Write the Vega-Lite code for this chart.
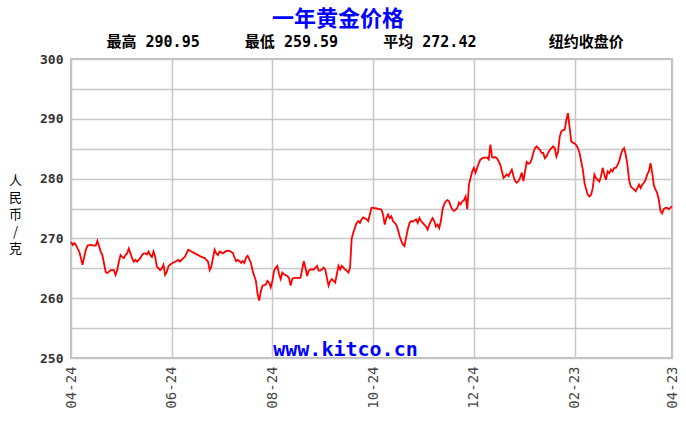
{
  "$schema": "https://vega.github.io/schema/vega-lite/v6.json",
  "width": 601,
  "height": 299,
  "autosize": {"type": "none"},
  "padding": {"left": 71, "top": 59, "right": 14, "bottom": 65},
  "background": "white",
  "config": {
    "view": {"stroke": "#bdbdbd", "strokeWidth": 2}
  },
  "title": {
    "text": "一年黄金价格",
    "subtitle": "\u200b\u00a0\u00a0\u00a0\u00a0\u00a0\u00a0最高\u00a0290.95\u00a0\u00a0\u00a0\u00a0\u00a0最低\u00a0259.59\u00a0\u00a0\u00a0\u00a0\u00a0平均\u00a0272.42\u00a0\u00a0\u00a0\u00a0\u00a0\u00a0\u00a0\u00a0纽约收盘价",
    "anchor": "middle",
    "frame": "group",
    "dx": -33.5,
    "font": "Noto Sans CJK SC",
    "fontSize": 22,
    "fontWeight": "bold",
    "color": "#0000ff",
    "subtitleFont": "'DejaVu Sans Mono', 'Noto Sans CJK SC'",
    "subtitleFontSize": 15,
    "subtitleFontWeight": "bold",
    "subtitleColor": "#000000",
    "subtitlePadding": 4,
    "offset": 2
  },
  "data": {
    "values": [
      {"d": "2018-04-24", "p": 269.4}, {"d": "2018-04-25", "p": 268.9}, {"d": "2018-04-26", "p": 269.2}, {"d": "2018-04-27", "p": 268.9},
      {"d": "2018-04-28", "p": 268.3}, {"d": "2018-04-29", "p": 267.8}, {"d": "2018-04-30", "p": 266.7}, {"d": "2018-05-01", "p": 265.6},
      {"d": "2018-05-02", "p": 266.9}, {"d": "2018-05-03", "p": 268.1}, {"d": "2018-05-04", "p": 268.8}, {"d": "2018-05-06", "p": 268.9},
      {"d": "2018-05-08", "p": 268.8}, {"d": "2018-05-09", "p": 268.8}, {"d": "2018-05-10", "p": 269.6}, {"d": "2018-05-11", "p": 268.7},
      {"d": "2018-05-12", "p": 267.8}, {"d": "2018-05-13", "p": 267.2}, {"d": "2018-05-14", "p": 265.8}, {"d": "2018-05-15", "p": 264.4},
      {"d": "2018-05-16", "p": 264.2}, {"d": "2018-05-18", "p": 264.7}, {"d": "2018-05-20", "p": 264.7}, {"d": "2018-05-21", "p": 263.9},
      {"d": "2018-05-22", "p": 264.7}, {"d": "2018-05-23", "p": 266.1}, {"d": "2018-05-24", "p": 267.2}, {"d": "2018-05-25", "p": 266.9},
      {"d": "2018-05-26", "p": 266.7}, {"d": "2018-05-27", "p": 267.2}, {"d": "2018-05-28", "p": 267.5}, {"d": "2018-05-29", "p": 268.3},
      {"d": "2018-05-30", "p": 267.5}, {"d": "2018-05-31", "p": 266.7}, {"d": "2018-06-01", "p": 266.1}, {"d": "2018-06-02", "p": 266.4},
      {"d": "2018-06-03", "p": 266.1}, {"d": "2018-06-04", "p": 266.4}, {"d": "2018-06-05", "p": 266.7}, {"d": "2018-06-06", "p": 267.2},
      {"d": "2018-06-07", "p": 267.5}, {"d": "2018-06-08", "p": 267.5}, {"d": "2018-06-09", "p": 267.3}, {"d": "2018-06-10", "p": 267.8},
      {"d": "2018-06-11", "p": 267.2}, {"d": "2018-06-12", "p": 266.9}, {"d": "2018-06-13", "p": 267.8}, {"d": "2018-06-14", "p": 266.9},
      {"d": "2018-06-15", "p": 265.3}, {"d": "2018-06-16", "p": 265.0}, {"d": "2018-06-17", "p": 264.7}, {"d": "2018-06-18", "p": 265.0},
      {"d": "2018-06-19", "p": 265.6}, {"d": "2018-06-20", "p": 263.9}, {"d": "2018-06-21", "p": 264.4}, {"d": "2018-06-22", "p": 265.3},
      {"d": "2018-06-23", "p": 265.6}, {"d": "2018-06-24", "p": 265.8}, {"d": "2018-06-26", "p": 266.1}, {"d": "2018-06-28", "p": 266.4},
      {"d": "2018-06-29", "p": 266.1}, {"d": "2018-06-30", "p": 266.4}, {"d": "2018-07-01", "p": 266.7}, {"d": "2018-07-02", "p": 266.9},
      {"d": "2018-07-04", "p": 268.1}, {"d": "2018-07-06", "p": 267.8}, {"d": "2018-07-08", "p": 267.5}, {"d": "2018-07-10", "p": 267.2},
      {"d": "2018-07-12", "p": 266.9}, {"d": "2018-07-14", "p": 266.7}, {"d": "2018-07-16", "p": 266.1}, {"d": "2018-07-17", "p": 264.7},
      {"d": "2018-07-18", "p": 265.3}, {"d": "2018-07-19", "p": 266.7}, {"d": "2018-07-20", "p": 268.1}, {"d": "2018-07-21", "p": 267.5},
      {"d": "2018-07-22", "p": 267.2}, {"d": "2018-07-23", "p": 267.8}, {"d": "2018-07-25", "p": 267.5}, {"d": "2018-07-27", "p": 267.9},
      {"d": "2018-07-29", "p": 267.9}, {"d": "2018-07-31", "p": 267.6}, {"d": "2018-08-01", "p": 266.8}, {"d": "2018-08-02", "p": 266.2},
      {"d": "2018-08-03", "p": 266.4}, {"d": "2018-08-04", "p": 266.2}, {"d": "2018-08-05", "p": 265.9}, {"d": "2018-08-06", "p": 266.2},
      {"d": "2018-08-07", "p": 265.9}, {"d": "2018-08-08", "p": 266.8}, {"d": "2018-08-09", "p": 267.1}, {"d": "2018-08-10", "p": 266.5},
      {"d": "2018-08-11", "p": 265.9}, {"d": "2018-08-12", "p": 264.6}, {"d": "2018-08-13", "p": 263.7}, {"d": "2018-08-14", "p": 262.9},
      {"d": "2018-08-15", "p": 260.7}, {"d": "2018-08-16", "p": 259.59}, {"d": "2018-08-17", "p": 261.2}, {"d": "2018-08-18", "p": 262.1},
      {"d": "2018-08-19", "p": 262.2}, {"d": "2018-08-20", "p": 262.3}, {"d": "2018-08-21", "p": 262.9}, {"d": "2018-08-22", "p": 262.6},
      {"d": "2018-08-23", "p": 261.8}, {"d": "2018-08-24", "p": 262.9}, {"d": "2018-08-25", "p": 264.6}, {"d": "2018-08-26", "p": 265.1},
      {"d": "2018-08-27", "p": 265.4}, {"d": "2018-08-28", "p": 264.0}, {"d": "2018-08-29", "p": 263.2}, {"d": "2018-08-30", "p": 264.3},
      {"d": "2018-08-31", "p": 264.0}, {"d": "2018-09-02", "p": 263.7}, {"d": "2018-09-03", "p": 263.4}, {"d": "2018-09-04", "p": 262.1},
      {"d": "2018-09-05", "p": 263.2}, {"d": "2018-09-06", "p": 263.4}, {"d": "2018-09-08", "p": 263.4}, {"d": "2018-09-10", "p": 263.4},
      {"d": "2018-09-11", "p": 264.8}, {"d": "2018-09-12", "p": 266.2}, {"d": "2018-09-13", "p": 265.1}, {"d": "2018-09-14", "p": 263.7},
      {"d": "2018-09-15", "p": 264.6}, {"d": "2018-09-16", "p": 264.8}, {"d": "2018-09-18", "p": 264.8}, {"d": "2018-09-20", "p": 265.4},
      {"d": "2018-09-21", "p": 264.6}, {"d": "2018-09-22", "p": 264.6}, {"d": "2018-09-23", "p": 264.8}, {"d": "2018-09-24", "p": 265.1},
      {"d": "2018-09-25", "p": 264.8}, {"d": "2018-09-26", "p": 263.4}, {"d": "2018-09-27", "p": 262.1}, {"d": "2018-09-28", "p": 262.9},
      {"d": "2018-09-29", "p": 263.2}, {"d": "2018-09-30", "p": 262.9}, {"d": "2018-10-01", "p": 262.6}, {"d": "2018-10-02", "p": 264.0},
      {"d": "2018-10-03", "p": 265.4}, {"d": "2018-10-04", "p": 264.8}, {"d": "2018-10-05", "p": 265.4}, {"d": "2018-10-06", "p": 265.1},
      {"d": "2018-10-07", "p": 264.8}, {"d": "2018-10-08", "p": 264.6}, {"d": "2018-10-09", "p": 264.3}, {"d": "2018-10-10", "p": 265.1},
      {"d": "2018-10-11", "p": 270.0}, {"d": "2018-10-12", "p": 271.0}, {"d": "2018-10-13", "p": 271.8}, {"d": "2018-10-14", "p": 272.6},
      {"d": "2018-10-15", "p": 272.9}, {"d": "2018-10-16", "p": 272.6}, {"d": "2018-10-17", "p": 273.2}, {"d": "2018-10-18", "p": 273.5},
      {"d": "2018-10-20", "p": 273.2}, {"d": "2018-10-21", "p": 272.9}, {"d": "2018-10-22", "p": 274.0}, {"d": "2018-10-23", "p": 275.1},
      {"d": "2018-10-24", "p": 275.1}, {"d": "2018-10-26", "p": 275.0}, {"d": "2018-10-28", "p": 274.9}, {"d": "2018-10-29", "p": 274.8},
      {"d": "2018-10-30", "p": 274.0}, {"d": "2018-10-31", "p": 272.3}, {"d": "2018-11-01", "p": 273.4}, {"d": "2018-11-02", "p": 274.0},
      {"d": "2018-11-03", "p": 273.4}, {"d": "2018-11-04", "p": 273.7}, {"d": "2018-11-05", "p": 272.9}, {"d": "2018-11-06", "p": 272.6},
      {"d": "2018-11-07", "p": 272.3}, {"d": "2018-11-08", "p": 271.5}, {"d": "2018-11-09", "p": 270.4}, {"d": "2018-11-10", "p": 269.6},
      {"d": "2018-11-11", "p": 269.0}, {"d": "2018-11-12", "p": 268.7}, {"d": "2018-11-13", "p": 270.2}, {"d": "2018-11-14", "p": 271.5},
      {"d": "2018-11-15", "p": 272.6}, {"d": "2018-11-16", "p": 272.9}, {"d": "2018-11-17", "p": 272.8}, {"d": "2018-11-18", "p": 273.0},
      {"d": "2018-11-19", "p": 273.2}, {"d": "2018-11-20", "p": 272.6}, {"d": "2018-11-21", "p": 273.4}, {"d": "2018-11-22", "p": 272.9},
      {"d": "2018-11-23", "p": 272.6}, {"d": "2018-11-24", "p": 272.3}, {"d": "2018-11-25", "p": 272.0}, {"d": "2018-11-26", "p": 271.5},
      {"d": "2018-11-27", "p": 272.3}, {"d": "2018-11-28", "p": 272.9}, {"d": "2018-11-29", "p": 273.4}, {"d": "2018-11-30", "p": 272.9},
      {"d": "2018-12-01", "p": 272.0}, {"d": "2018-12-02", "p": 272.3}, {"d": "2018-12-03", "p": 271.7}, {"d": "2018-12-04", "p": 272.9},
      {"d": "2018-12-05", "p": 274.8}, {"d": "2018-12-06", "p": 275.7}, {"d": "2018-12-07", "p": 276.2}, {"d": "2018-12-08", "p": 276.4},
      {"d": "2018-12-09", "p": 276.2}, {"d": "2018-12-10", "p": 275.4}, {"d": "2018-12-11", "p": 274.8}, {"d": "2018-12-12", "p": 274.6},
      {"d": "2018-12-13", "p": 274.8}, {"d": "2018-12-14", "p": 275.1}, {"d": "2018-12-15", "p": 276.0}, {"d": "2018-12-16", "p": 275.7},
      {"d": "2018-12-17", "p": 276.2}, {"d": "2018-12-18", "p": 276.4}, {"d": "2018-12-19", "p": 277.0}, {"d": "2018-12-20", "p": 274.9},
      {"d": "2018-12-21", "p": 279.0}, {"d": "2018-12-22", "p": 280.1}, {"d": "2018-12-23", "p": 281.2}, {"d": "2018-12-24", "p": 281.8},
      {"d": "2018-12-25", "p": 281.0}, {"d": "2018-12-26", "p": 281.8}, {"d": "2018-12-27", "p": 282.6}, {"d": "2018-12-28", "p": 283.2},
      {"d": "2018-12-29", "p": 283.4}, {"d": "2018-12-30", "p": 283.5}, {"d": "2018-12-31", "p": 283.5}, {"d": "2019-01-01", "p": 283.5},
      {"d": "2019-01-02", "p": 283.2}, {"d": "2019-01-03", "p": 285.7}, {"d": "2019-01-04", "p": 283.6}, {"d": "2019-01-05", "p": 283.5},
      {"d": "2019-01-06", "p": 283.6}, {"d": "2019-01-07", "p": 283.4}, {"d": "2019-01-08", "p": 282.9}, {"d": "2019-01-09", "p": 282.3},
      {"d": "2019-01-10", "p": 281.2}, {"d": "2019-01-11", "p": 280.1}, {"d": "2019-01-12", "p": 280.4}, {"d": "2019-01-13", "p": 280.7},
      {"d": "2019-01-14", "p": 280.4}, {"d": "2019-01-15", "p": 281.0}, {"d": "2019-01-16", "p": 281.5}, {"d": "2019-01-17", "p": 280.4},
      {"d": "2019-01-18", "p": 279.6}, {"d": "2019-01-19", "p": 279.3}, {"d": "2019-01-20", "p": 279.6}, {"d": "2019-01-21", "p": 280.1},
      {"d": "2019-01-22", "p": 281.0}, {"d": "2019-01-23", "p": 279.6}, {"d": "2019-01-24", "p": 281.2}, {"d": "2019-01-25", "p": 282.8},
      {"d": "2019-01-26", "p": 282.5}, {"d": "2019-01-27", "p": 282.6}, {"d": "2019-01-28", "p": 283.2}, {"d": "2019-01-29", "p": 284.3},
      {"d": "2019-01-30", "p": 285.1}, {"d": "2019-01-31", "p": 285.4}, {"d": "2019-02-01", "p": 285.1}, {"d": "2019-02-02", "p": 284.8},
      {"d": "2019-02-03", "p": 284.3}, {"d": "2019-02-04", "p": 284.3}, {"d": "2019-02-05", "p": 283.4}, {"d": "2019-02-06", "p": 283.7},
      {"d": "2019-02-07", "p": 284.3}, {"d": "2019-02-08", "p": 284.8}, {"d": "2019-02-09", "p": 285.1}, {"d": "2019-02-10", "p": 285.4},
      {"d": "2019-02-11", "p": 285.1}, {"d": "2019-02-12", "p": 283.7}, {"d": "2019-02-13", "p": 284.5}, {"d": "2019-02-14", "p": 287.0},
      {"d": "2019-02-15", "p": 287.9}, {"d": "2019-02-16", "p": 288.1}, {"d": "2019-02-17", "p": 288.2}, {"d": "2019-02-18", "p": 289.8},
      {"d": "2019-02-19", "p": 290.95}, {"d": "2019-02-20", "p": 288.5}, {"d": "2019-02-21", "p": 286.2}, {"d": "2019-02-22", "p": 286.0},
      {"d": "2019-02-23", "p": 285.9}, {"d": "2019-02-24", "p": 285.6}, {"d": "2019-02-25", "p": 285.1}, {"d": "2019-02-26", "p": 284.3},
      {"d": "2019-02-27", "p": 282.9}, {"d": "2019-02-28", "p": 281.5}, {"d": "2019-03-01", "p": 279.3}, {"d": "2019-03-02", "p": 278.2},
      {"d": "2019-03-03", "p": 277.3}, {"d": "2019-03-04", "p": 277.0}, {"d": "2019-03-05", "p": 277.3}, {"d": "2019-03-06", "p": 278.4},
      {"d": "2019-03-07", "p": 280.7}, {"d": "2019-03-08", "p": 280.1}, {"d": "2019-03-09", "p": 279.8}, {"d": "2019-03-10", "p": 279.5},
      {"d": "2019-03-11", "p": 280.4}, {"d": "2019-03-12", "p": 281.8}, {"d": "2019-03-13", "p": 280.7}, {"d": "2019-03-14", "p": 279.8},
      {"d": "2019-03-15", "p": 281.2}, {"d": "2019-03-16", "p": 280.9}, {"d": "2019-03-17", "p": 281.5}, {"d": "2019-03-18", "p": 281.2},
      {"d": "2019-03-19", "p": 281.8}, {"d": "2019-03-20", "p": 281.8}, {"d": "2019-03-21", "p": 282.3}, {"d": "2019-03-22", "p": 282.9},
      {"d": "2019-03-23", "p": 284.0}, {"d": "2019-03-24", "p": 284.8}, {"d": "2019-03-25", "p": 285.1}, {"d": "2019-03-26", "p": 284.0},
      {"d": "2019-03-27", "p": 282.3}, {"d": "2019-03-28", "p": 279.8}, {"d": "2019-03-29", "p": 278.7}, {"d": "2019-03-30", "p": 278.4},
      {"d": "2019-03-31", "p": 278.2}, {"d": "2019-04-01", "p": 277.9}, {"d": "2019-04-02", "p": 278.4}, {"d": "2019-04-03", "p": 279.0},
      {"d": "2019-04-04", "p": 278.4}, {"d": "2019-04-05", "p": 279.0}, {"d": "2019-04-06", "p": 279.3}, {"d": "2019-04-07", "p": 279.8},
      {"d": "2019-04-08", "p": 280.7}, {"d": "2019-04-09", "p": 281.2}, {"d": "2019-04-10", "p": 282.6}, {"d": "2019-04-11", "p": 281.0},
      {"d": "2019-04-12", "p": 278.9}, {"d": "2019-04-13", "p": 278.2}, {"d": "2019-04-14", "p": 277.6}, {"d": "2019-04-15", "p": 276.5},
      {"d": "2019-04-16", "p": 274.6}, {"d": "2019-04-17", "p": 274.2}, {"d": "2019-04-18", "p": 274.9}, {"d": "2019-04-19", "p": 275.1},
      {"d": "2019-04-20", "p": 275.1}, {"d": "2019-04-21", "p": 274.9}, {"d": "2019-04-22", "p": 275.1}, {"d": "2019-04-23", "p": 275.4}
    ]
  },
  "mark": {"type": "line", "color": "#ff0000", "strokeWidth": 1.8},
  "encoding": {
    "x": {
      "field": "d",
      "type": "temporal",
      "scale": {
        "type": "utc",
        "domain": [
          {"year": 2018, "month": 4, "date": 24, "utc": true},
          {"year": 2019, "month": 4, "date": 23, "utc": true}
        ]
      },
      "axis": {
        "values": [
          {"year": 2018, "month": 4, "date": 24, "utc": true},
          {"year": 2018, "month": 6, "date": 24, "utc": true},
          {"year": 2018, "month": 8, "date": 24, "utc": true},
          {"year": 2018, "month": 10, "date": 24, "utc": true},
          {"year": 2018, "month": 12, "date": 24, "utc": true},
          {"year": 2019, "month": 2, "date": 23, "utc": true},
          {"year": 2019, "month": 4, "date": 23, "utc": true}
        ],
        "labelExpr": "utcFormat(datum.value, '%m-%d')",
        "labelAngle": 270,
        "labelFont": "DejaVu Sans Mono",
        "labelFontSize": 14,
        "labelColor": "#444444",
        "labelPadding": 8,
        "labelOverlap": false,
        "labelBound": false,
        "labelFlush": false,
        "ticks": false,
        "domain": false,
        "grid": true,
        "gridColor": "#c8c8c8",
        "gridWidth": 1.5,
        "title": "www.kitco.cn",
        "titleFont": "DejaVu Sans Mono",
        "titleFontSize": 20,
        "titleFontWeight": "bold",
        "titleColor": "#0000ff",
        "titleX": 274,
        "titleY": -9,
        "titleAlign": "center",
        "titleBaseline": "middle"
      }
    },
    "y": {
      "field": "p",
      "type": "quantitative",
      "scale": {"domain": [250, 300], "zero": false, "nice": false},
      "axis": {
        "values": [250, 255, 260, 265, 270, 275, 280, 285, 290, 295, 300],
        "labelExpr": "datum.value % 10 === 0 ? datum.label : ''",
        "labelFont": "DejaVu Sans Mono",
        "labelFontSize": 13,
        "labelFontWeight": "bold",
        "labelColor": "#333333",
        "labelPadding": 8,
        "labelOverlap": false,
        "labelBound": false,
        "labelFlush": false,
        "ticks": false,
        "domain": false,
        "grid": true,
        "gridColor": "#c8c8c8",
        "gridWidth": 1.5,
        "title": ["人", "民", "币", "/", "克"],
        "titleFont": "Noto Sans CJK SC",
        "titleFontSize": 13,
        "titleFontWeight": "normal",
        "titleColor": "#000000",
        "titleLineHeight": 17,
        "titleAngle": 0,
        "titleX": -56,
        "titleY": 121,
        "titleAlign": "center",
        "titleBaseline": "middle"
      }
    }
  }
}
